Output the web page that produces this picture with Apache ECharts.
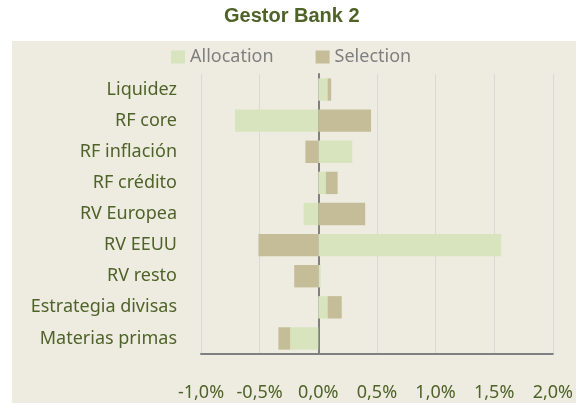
<!DOCTYPE html>
<html>
<head>
<meta charset="utf-8">
<script src="https://cdn.jsdelivr.net/npm/echarts@6/dist/echarts.min.js"></script>
<style>
  html, body { margin: 0; padding: 0; background: #ffffff; }
  #chart { width: 576px; height: 403px; }
</style>
</head>
<body>
<div id="chart"></div>
<script>
// datos (en %)
var categorias = ['Liquidez', 'RF core', 'RF inflación', 'RF crédito', 'RV Europea', 'RV EEUU', 'RV resto', 'Estrategia divisas', 'Materias primas'];
var allocation = [0.08, -0.71, 0.29, 0.065, -0.125, 1.56, 0.02, 0.08, -0.24];
var selection = [0.03, 0.45, -0.11, 0.10, 0.40, -0.51, -0.205, 0.12, -0.10];
var ejeMin = -1, ejeMax = 2, ejePaso = 0.5;

pintar();
function pintar() {
    var dom = document.getElementById('chart');
    var myChart = echarts.init(dom, null, { renderer: 'canvas' });
    var verde = '#4F6228';

    var option = {
        animation: false,
        graphic: [{
            type: 'rect',
            z: -100,
            silent: true,
            shape: { x: 12, y: 41, width: 564, height: 362 },
            style: { fill: '#EEECE1' }
        }],
        title: {
            text: 'Gestor Bank 2',
            left: 224,
            top: 6,
            padding: 0,
            textStyle: { fontFamily: 'Liberation Sans', fontSize: 20, fontWeight: 'bold', color: verde }
        },
        legend: {
            left: 171,
            top: 48,
            padding: 0,
            icon: 'rect',
            itemWidth: 14,
            itemHeight: 13,
            itemGap: 42,
            textStyle: { fontFamily: 'Noto Sans', fontSize: 18, color: '#7F7F7F' },
            data: ['Allocation', 'Selection']
        },
        grid: { left: 201, right: 23, top: 74, bottom: 49, containLabel: false },
        xAxis: {
            type: 'value',
            min: ejeMin,
            max: ejeMax,
            interval: ejePaso,
            axisLine: { show: true, onZero: false, lineStyle: { color: '#808080', width: 2 } },
            axisTick: { show: false },
            splitLine: { show: true, lineStyle: { color: '#D9D9D9', width: 1 } },
            axisLabel: {
                margin: 30,
                fontFamily: 'Noto Sans',
                fontSize: 18,
                color: verde,
                formatter: function (v) { return v.toFixed(1).replace('.', ',') + '%'; }
            }
        },
        yAxis: {
            type: 'category',
            inverse: true,
            data: categorias,
            axisLine: { show: true, onZero: true, lineStyle: { color: '#808080', width: 2 } },
            axisTick: { show: false },
            axisLabel: {
                margin: 24,
                fontFamily: 'Noto Sans',
                fontSize: 18,
                color: verde
            }
        },
        series: [
            {
                name: 'Allocation',
                type: 'bar',
                stack: 'total',
                barCategoryGap: '28%',
                data: allocation,
                itemStyle: { color: '#D7E4BD' }
            },
            {
                name: 'Selection',
                type: 'bar',
                stack: 'total',
                barCategoryGap: '28%',
                data: selection,
                itemStyle: { color: '#C4BD97' }
            }
        ]
    };

    myChart.setOption(option);
    window.addEventListener('resize', myChart.resize);
}
</script>
</body>
</html>
